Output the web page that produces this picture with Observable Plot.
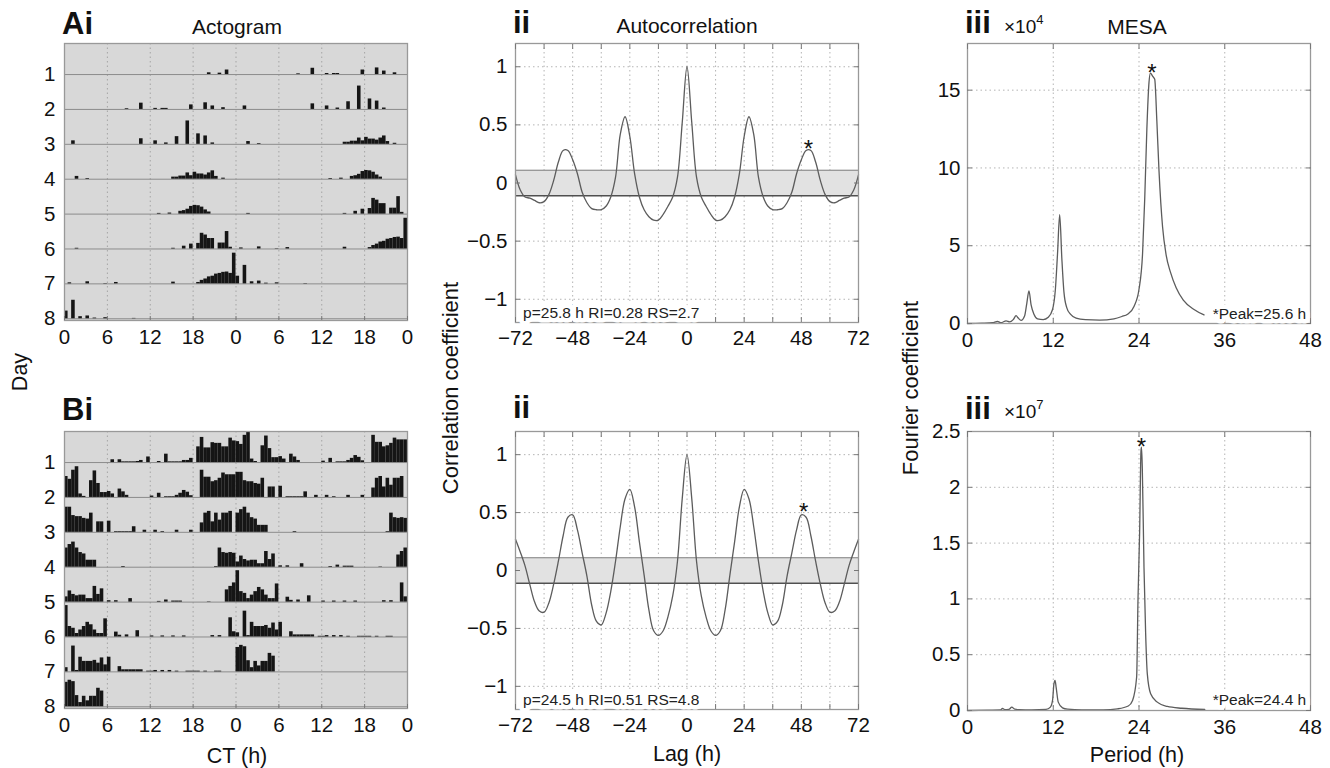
<!DOCTYPE html>
<html><head><meta charset="utf-8">
<script src="https://cdn.jsdelivr.net/npm/d3@7"></script>
<script src="https://cdn.jsdelivr.net/npm/@observablehq/plot@0.6"></script>
<style>
body{margin:0;background:#fff;}
#root{position:relative;width:1330px;height:768px;overflow:hidden;background:#fff;}
.p{position:absolute;}
#root .p svg g[aria-label$="tick label"]{font-size:20.5px !important;}
#root .p svg g[aria-label$="tick label"] text{font-size:20.5px !important;}
</style></head><body><div id="root"></div><script>
// ---------------- DATA ----------------
// Actogram: activity per 30-min bin (percent of row height), one array per day (48 bins)
const binHours = 0.5;
const dayLabels = [1, 2, 3, 4, 5, 6, 7, 8];
const ctTicks = [0, 6, 12, 18, 24, 30, 36, 42, 48];
const ctGrid = [6, 12, 18, 24, 30, 36, 42];

const dayA1 = [0,0,0,0,0,0,0,0,0,0,0,0, 0,0,0,0,0,0,0,0,0,0,0,0, 0,0,0,0,0,0,0,0,0,0,0,0, 0,0,0,0,5,0,0,4,0,13,0,0];
const dayA2 = [0,0,0,0,0,0,0,0,0,0,0,0, 0,0,0,0,0,2,0,0,0,18,0,0, 0,3,0,3,3,0,0,0,0,0,0,13, 0,0,0,19,0,10,0,0,5,0,0,0];
const dayA3 = [0,0,10,0,0,0,0,0,0,0,0,0, 0,0,0,0,0,0,0,0,0,16,0,0, 0,10,0,0,4,0,0,22,0,0,67,0, 0,30,0,24,0,4,0,0,0,0,0,0];
const dayA4 = [0,0,0,8,0,0,2,0,0,0,0,0, 0,0,0,0,0,0,0,0,0,0,0,0, 0,0,0,0,0,0,6,6,9,9,18,10, 20,15,15,12,18,24,8,0,3,0,0,0];
const dayA5 = [0,0,0,0,0,0,0,0,0,0,0,0, 0,0,0,0,0,0,0,0,0,0,0,0, 0,0,2,0,0,3,0,0,8,10,14,22, 25,24,20,12,6,0,0,0,0,0,0,0];
const dayA6 = [0,0,0,2,0,0,0,0,0,0,0,0, 0,0,0,0,0,0,0,0,0,0,0,0, 0,0,0,0,0,0,2,0,0,8,0,14, 0,16,45,40,30,30,0,17,17,50,5,0];
const dayA7 = [0,3,0,0,0,0,6,0,0,0,0,1, 0,0,4,0,0,0,0,0,0,0,0,0, 0,0,0,0,0,0,5,0,0,0,0,0, 0,4,10,14,20,22,28,30,33,34,30,88];
const dayA8 = [22,0,53,0,6,0,8,0,2,0,0,3, 0,0,0,0,0,0,0,1,0,0,0,0, 0,0,0,0,0,0,0,0,0,0,0,0, 0,0,0,0,0,0,0,0,0,0,0,0];

const dayB1 = [0,0,0,0,0,0,0,0,0,0,0,0, 0,8,0,8,2,2,2,2,3,6,0,16, 0,0,3,0,24,2,2,2,2,6,6,12, 0,45,72,42,42,57,55,55,45,45,70,62];
const dayB2 = [60,52,78,88,10,3,0,48,76,40,14,14, 17,10,0,24,16,6,0,0,0,0,0,0, 4,0,12,0,2,2,2,6,12,20,15,5, 0,0,78,58,58,45,48,55,70,65,65,65];
const dayB3 = [72,72,48,45,45,40,38,55,0,30,30,0, 32,0,2,2,2,2,2,16,0,0,6,0, 0,6,0,2,0,0,0,6,0,0,0,6, 0,0,27,55,60,30,55,35,55,55,60,0];
const dayB4 = [55,65,72,55,42,38,20,20,20,0,0,0, 0,0,0,0,2,0,0,0,0,0,0,0, 0,0,0,0,0,0,0,0,0,0,0,0, 0,0,0,0,0,0,2,55,42,40,42,40];
const dayB5 = [15,32,22,18,20,20,10,10,45,22,38,0, 4,0,4,0,0,0,10,0,0,0,0,0, 0,0,2,0,6,0,3,3,3,0,0,0, 0,0,0,0,1,0,0,0,0,35,45,55];
const dayB6 = [90,30,25,10,20,30,42,35,20,10,10,52, 0,0,14,5,0,6,0,0,18,0,0,0, 3,0,0,3,0,0,3,0,0,3,0,0, 0,0,0,0,0,4,0,4,0,0,55,15];
const dayB7 = [12,0,74,4,42,30,30,30,33,25,40,20, 42,0,0,15,6,6,6,6,6,6,0,2, 2,4,0,4,0,4,0,2,0,0,2,2, 2,2,0,2,0,0,2,2,0,0,0,0];
const dayB8 = [70,76,72,32,12,30,17,30,30,53,45,0, 0,0,0,0,0,0,0,0,0,0,0,0, 0,0,0,0,0,0,0,0,0,0,0,0, 0,0,0,0,0,0,0,0,0,0,0,0];

// Autocorrelation
const acLags = [-72,-70,-68,-66,-64,-62,-60,-58,-56,-54,-52,-50,-48,-46,-44,-42,-40,-38,-36,-34,-32,-30,-28,-26,-24,-22,-20,-18,-16,-14,-12,-10,-8,-6,-4,-2,0,2,4,6,8,10,12,14,16,18,20,22,24,26,28,30,32,34,36,38,40,42,44,46,48,50,52,54,56,58,60,62,64,66,68,70,72];
const acA = [0.07,-0.06,-0.12,-0.13,-0.15,-0.17,-0.16,-0.1,0.02,0.18,0.28,0.28,0.2,0.08,-0.08,-0.17,-0.22,-0.23,-0.23,-0.2,-0.12,0.05,0.42,0.57,0.4,0.08,-0.12,-0.23,-0.29,-0.32,-0.32,-0.27,-0.2,-0.12,0.05,0.52,1.0,0.52,0.05,-0.12,-0.2,-0.27,-0.32,-0.32,-0.29,-0.23,-0.12,0.08,0.4,0.57,0.42,0.05,-0.12,-0.2,-0.23,-0.23,-0.22,-0.17,-0.08,0.08,0.2,0.28,0.28,0.18,0.02,-0.1,-0.16,-0.17,-0.15,-0.13,-0.12,-0.06,0.07];
const acB = [0.27,0.16,0.04,-0.12,-0.27,-0.35,-0.36,-0.28,-0.12,0.08,0.3,0.46,0.48,0.35,0.15,-0.05,-0.3,-0.44,-0.47,-0.37,-0.18,0.08,0.38,0.62,0.7,0.55,0.25,-0.04,-0.34,-0.52,-0.56,-0.52,-0.4,-0.22,0.08,0.62,1.0,0.62,0.08,-0.22,-0.4,-0.52,-0.56,-0.52,-0.34,-0.04,0.25,0.55,0.7,0.62,0.38,0.08,-0.18,-0.37,-0.47,-0.44,-0.3,-0.05,0.15,0.35,0.48,0.46,0.3,0.08,-0.12,-0.28,-0.36,-0.35,-0.27,-0.12,0.04,0.16,0.27];
const ciA = 0.11, ciB = 0.11;
const lagLabels = [-72, -48, -24, 0, 24, 48, 72];
const lagGrid = [-60, -48, -36, -24, -12, 0, 12, 24, 36, 48, 60];
const lagTickMarks = [-72, -60, -48, -36, -24, -12, 0, 12, 24, 36, 48, 60, 72];
const rTicks = [-1, -0.5, 0, 0.5, 1];
const starA = {lag: 51, r: 0.28}, starB = {lag: 49, r: 0.49};
const noteA = "p=25.8 h RI=0.28 RS=2.7", noteB = "p=24.5 h RI=0.51 RS=4.8";

// MESA (A in units of 1e4, B in units of 1e7)
const mesaPeriodA = [0,2,3.5,4.2,4.7,5.4,5.9,6.4,6.8,7.1,7.5,8.0,8.3,8.6,8.9,9.3,9.8,10.6,11.3,11.9,12.3,12.6,12.9,13.2,13.5,13.9,14.4,15.2,16.5,18.5,20.5,21.6,22.4,23.3,24.0,24.5,24.8,25.1,25.4,25.6,25.9,26.2,26.5,26.8,27.3,27.8,28.4,29.2,30.2,31.7,33.1];
const mesaValA = [0,0.02,0.05,0.13,0.05,0.17,0.1,0.25,0.5,0.35,0.2,0.5,1.3,2.1,1.2,0.6,0.3,0.25,0.4,0.9,2.2,4.5,7.0,4.2,2.0,1.0,0.6,0.35,0.25,0.22,0.3,0.45,0.6,1.1,2.2,4.5,8.0,12.5,15.5,16.1,15.9,15.7,13.0,9.8,6.2,4.4,3.3,2.3,1.5,0.9,0.55];
const mesaPeriodB = [0,3,4.6,4.9,5.2,5.8,6.2,6.6,7.2,9,11,11.6,11.9,12.1,12.25,12.4,12.7,13.3,14,16,19,21,22.5,23.1,23.67,23.86,24.09,24.28,24.35,24.46,24.7,24.93,25.16,25.63,26.56,27.96,30,33.2];
const mesaValB = [0,0.003,0.005,0.018,0.008,0.01,0.03,0.012,0.008,0.006,0.01,0.03,0.09,0.24,0.27,0.21,0.075,0.024,0.012,0.006,0.006,0.015,0.04,0.09,0.3,1.0,1.6,2.33,2.36,2.18,1.28,0.69,0.33,0.15,0.075,0.036,0.02,0.01];
const periodTicks = [0, 12, 24, 36, 48];
const periodGrid = [12, 24, 36];
const mesaTicksA = [0, 5, 10, 15], mesaGridA = [5, 10, 15];
const mesaTicksB = [0, 0.5, 1, 1.5, 2, 2.5], mesaGridB = [0.5, 1, 1.5, 2];
const mesaStarA = {period: 25.8, v: 16.1}, mesaStarB = {period: 24.35, v: 2.36};
const peakA = "*Peak=25.6 h", peakB = "*Peak=24.4 h";

// ---------------- DRAWING ----------------
const FONT = '"Liberation Sans", Arial, Helvetica, sans-serif';
const TICK_FS = 20.5;
const baseStyle = {fontFamily: FONT, fontSize: "20px", color: "#111", background: "transparent", overflow: "visible"};
const dotted = {stroke: "#b4b4b4", strokeOpacity: 1, strokeDasharray: "1.5,3", strokeWidth: 1};
const fmtMinus = d => (d < 0 ? "\u2212" : "") + Math.abs(d);
const root = document.getElementById("root");
function place(el, left, top) {
  const d = document.createElement("div");
  d.className = "p"; d.style.left = left + "px"; d.style.top = top + "px";
  d.appendChild(el); root.appendChild(d);
}

function actoRows(days) {
  const out = [];
  dayLabels.forEach((row, r) => {
    [0, 1].forEach(half => {
      const day = days[r + half];
      if (!day) return;
      day.forEach((v, i) => {
        if (v > 0) out.push({row, x1: half * 24 + i * binHours, x2: half * 24 + (i + 1) * binHours, top: row - v / 100});
      });
    });
  });
  return out;
}

function tickMarksX(ticks) {
  return [
    Plot.axisX({ticks, tickSize: -5, tickFormat: () => "", stroke: "#777", label: null}),
    Plot.axisX({ticks, anchor: "top", tickSize: -5, tickFormat: () => "", stroke: "#777", label: null})
  ];
}
function tickMarksY(ticks) {
  return [
    Plot.axisY({ticks, tickSize: -5, tickFormat: () => "", stroke: "#777", label: null}),
    Plot.axisY({ticks, anchor: "right", tickSize: -5, tickFormat: () => "", stroke: "#777", label: null})
  ];
}

function actogramPlot(days, marginTop, marginBottom) {
  return Plot.plot({
    width: 420, height: 360, marginLeft: 64, marginRight: 13, marginTop, marginBottom,
    style: baseStyle,
    x: {domain: [0, 48], label: null},
    y: {domain: [8.05, 0.11], label: null},
    marks: [
      Plot.frame({fill: "#d8d8d8", stroke: null}),
      Plot.gridX({ticks: ctGrid, stroke: "#a4a4a4", strokeOpacity: 1, strokeDasharray: "1.5,3"}),
      Plot.ruleY(dayLabels, {stroke: "#8c8c8c", strokeWidth: 1}),
      Plot.rect(actoRows(days), {x1: "x1", x2: "x2", y1: "row", y2: "top", fill: "#151515"}),
      Plot.frame({stroke: "#999", strokeWidth: 1.3}),
      Plot.axisX({ticks: ctTicks, tickSize: -4, tickFormat: () => "", stroke: "#777", label: null}),
      Plot.axisX({ticks: ctTicks, tickSize: 0, tickPadding: 9, tickFormat: d => String(d % 24), fontSize: TICK_FS, label: null}),
      Plot.axisY({ticks: dayLabels, tickSize: 0, tickPadding: 9, fontSize: TICK_FS, label: null})
    ]
  });
}

function acPlot(vals, ci, star, note, marginTop, marginBottom) {
  const data = acLags.map((lag, i) => ({lag, r: vals[i]}));
  return Plot.plot({
    width: 430, height: 360, marginLeft: 75, marginRight: 12, marginTop, marginBottom,
    style: baseStyle,
    x: {domain: [-72, 72], label: null},
    y: {domain: [-1.2, 1.2], label: null},
    marks: [
      Plot.gridX({ticks: lagGrid, ...dotted}),
      Plot.gridY({ticks: rTicks, ...dotted}),
      Plot.rect([ci], {x1: -72, x2: 72, y1: d => -d, y2: d => d, fill: "#e2e2e2"}),
      Plot.ruleY([ci], {stroke: "#808080", strokeWidth: 1.1}),
      Plot.ruleY([-ci], {stroke: "#505050", strokeWidth: 1.6}),
      Plot.line(data, {x: "lag", y: "r", curve: "catmull-rom", stroke: "#5c5c5c", strokeWidth: 1.3}),
      Plot.frame({stroke: "#999", strokeWidth: 1.3}),
      ...tickMarksX(lagTickMarks),
      ...tickMarksY(rTicks),
      Plot.axisX({ticks: lagLabels, tickSize: 0, tickPadding: 8, tickFormat: fmtMinus, fontSize: TICK_FS, label: null}),
      Plot.axisY({ticks: rTicks, tickSize: 0, tickPadding: 8, tickFormat: fmtMinus, fontSize: TICK_FS, label: null}),
      Plot.text([note], {x: -68.8, y: -1.115, text: d => d, textAnchor: "start", fontSize: 15.5, fill: "#222", stroke: "white", strokeWidth: 9}),
      Plot.text([star], {x: "lag", y: "r", text: () => "*", fontSize: 24, dy: -1, fill: "#111"})
    ]
  });
}

function mesaPlot(per, vals, yMax, yTicks, yGrid, star, note, noteY, marginTop, marginBottom) {
  const data = per.map((p, i) => ({p, v: vals[i]}));
  return Plot.plot({
    width: 440, height: 360, marginLeft: 77, marginRight: 20, marginTop, marginBottom,
    style: baseStyle,
    x: {domain: [0, 48], label: null},
    y: {domain: [0, yMax], label: null},
    marks: [
      Plot.gridX({ticks: periodGrid, ...dotted}),
      Plot.gridY({ticks: yGrid, ...dotted}),
      Plot.line(data, {x: "p", y: "v", curve: "monotone-x", stroke: "#5c5c5c", strokeWidth: 1.3}),
      Plot.frame({stroke: "#999", strokeWidth: 1.3}),
      ...tickMarksX(periodTicks),
      ...tickMarksY(yTicks),
      Plot.axisX({ticks: periodTicks, tickSize: 0, tickPadding: 9, fontSize: TICK_FS, label: null}),
      Plot.axisY({ticks: yTicks, tickSize: 0, tickPadding: 7, tickFormat: d => String(d), fontSize: TICK_FS, label: null}),
      Plot.text([note], {x: 47.4, y: noteY, text: d => d, textAnchor: "end", fontSize: 15.5, fill: "#222", stroke: "white", strokeWidth: 9}),
      Plot.text([star], {x: "period", y: "v", text: () => "*", fontSize: 24, dy: 0, fill: "#111"})
    ]
  });
}

place(actogramPlot([dayA1, dayA2, dayA3, dayA4, dayA5, dayA6, dayA7, dayA8], 43, 40), 0, 0);
place(actogramPlot([dayB1, dayB2, dayB3, dayB4, dayB5, dayB6, dayB7, dayB8], 41, 42), 0, 390);
place(acPlot(acA, ciA, starA, noteA, 43, 38), 440, 0);
place(acPlot(acB, ciB, starB, noteB, 41, 41), 440, 390);
place(mesaPlot(mesaPeriodA, mesaValA, 18, mesaTicksA, mesaGridA, mesaStarA, peakA, 0.64, 43, 37), 890, 0);
place(mesaPlot(mesaPeriodB, mesaValB, 2.5, mesaTicksB, mesaGridB, mesaStarB, peakB, 0.09, 41, 40), 890, 390);

// ---------------- LABELS ----------------
const overlay = d3.select(root).append("svg")
  .attr("width", 1330).attr("height", 768)
  .style("position", "absolute").style("left", "0px").style("top", "0px")
  .style("pointer-events", "none").style("font-family", FONT);
function label(t, x, y, o = {}) {
  const el = overlay.append("text").attr("x", x).attr("y", y)
    .attr("font-size", o.size || 21.5).attr("font-weight", o.weight || "normal")
    .attr("text-anchor", o.anchor || "start").attr("fill", "#111").text(t);
  if (o.rotate) el.attr("transform", `rotate(-90 ${x} ${y})`);
  return el;
}
label("Ai", 62, 34, {size: 31, weight: "bold"});
label("Actogram", 237, 34, {size: 21, anchor: "middle"});
label("ii", 513, 33, {size: 31, weight: "bold"});
label("Autocorrelation", 687, 33, {size: 21, anchor: "middle"});
label("iii", 965, 33, {size: 31, weight: "bold"});
label("×10", 1004, 33, {size: 19}).append("tspan").attr("dy", -9).attr("font-size", 13).text("4");
label("MESA", 1137, 34, {size: 21, anchor: "middle"});
label("Bi", 62, 420, {size: 31, weight: "bold"});
label("ii", 513, 418, {size: 31, weight: "bold"});
label("iii", 965, 419, {size: 31, weight: "bold"});
label("×10", 1004, 418, {size: 19}).append("tspan").attr("dy", -9).attr("font-size", 13).text("7");
label("CT (h)", 237, 763, {anchor: "middle"});
label("Lag (h)", 687, 761, {anchor: "middle"});
label("Period (h)", 1137, 762, {anchor: "middle"});
label("Day", 27, 372, {anchor: "middle", rotate: true});
label("Correlation coefficient", 458, 388, {anchor: "middle", rotate: true, size: 22});
label("Fourier coefficient", 918, 388, {anchor: "middle", rotate: true, size: 22});
</script></body></html>
